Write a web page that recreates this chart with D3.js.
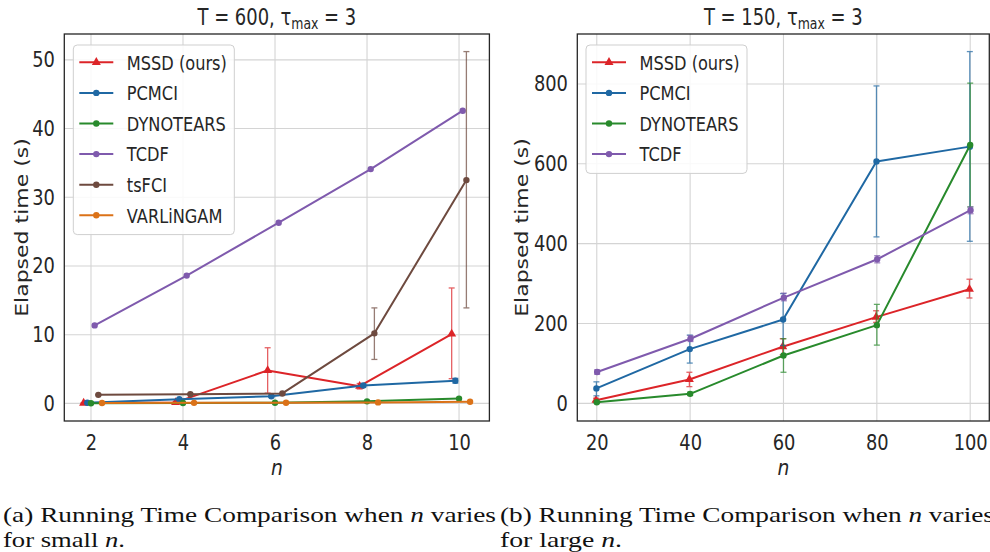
<!DOCTYPE html>
<html>
<head>
<meta charset="utf-8">
<script src="https://cdn.jsdelivr.net/npm/d3@7"></script>
<style>
  body { margin: 0; background: #fff; }
  svg { display: block; }
</style>
</head>
<body>
<svg id="fig" width="990" height="552"></svg>
<script>
// ---------- data: small n (T = 600) ----------
const nSmall = [2, 4, 6, 8, 10];
const mssdSmall   = [0.05, 0.15, 4.8, 2.5, 10.1];
const mssdSmallLo = [0.0, 0.0, 1.5, 2.1, 3.6];
const mssdSmallHi = [0.1, 0.3, 8.1, 2.9, 16.8];
const pcmciSmall   = [0.1, 0.6, 1.05, 2.6, 3.3];
const pcmciSmallLo = [0.05, 0.5, 0.9, 2.4, 2.95];
const pcmciSmallHi = [0.15, 0.7, 1.2, 2.8, 3.65];
const dynoSmall   = [0.02, 0.05, 0.1, 0.3, 0.7];
const tcdfSmall   = [11.35, 18.6, 26.3, 34.1, 42.6];
const tsfciSmall   = [1.25, 1.35, 1.45, 10.2, 32.5];
const tsfciSmallLo = [1.2, 1.3, 1.4, 6.4, 13.9];
const tsfciSmallHi = [1.3, 1.4, 1.5, 13.9, 51.2];
const varlingamSmall = [0.05, 0.08, 0.1, 0.15, 0.25];
const ticksSmallX = [2, 4, 6, 8, 10];
const ticksSmallY = [0, 10, 20, 30, 40, 50];

// ---------- data: large n (T = 150) ----------
const nLarge = [20, 40, 60, 80, 100];
const mssdLarge   = [8, 60, 142, 216, 286];
const mssdLargeLo = [3, 42, 122, 203, 264];
const mssdLargeHi = [13, 78, 162, 232, 311];
const pcmciLarge   = [37.6, 136, 210, 606, 643];
const pcmciLargeLo = [19, 101, 145, 417, 406];
const pcmciLargeHi = [54, 171, 275, 795, 881];
const dynoLarge   = [3, 24, 120, 196, 647];
const dynoLargeLo = [0, 20, 78, 146, 492];
const dynoLargeHi = [6, 28, 162, 248, 802];
const tcdfLarge   = [78.5, 162, 265, 361, 484];
const tcdfLargeLo = [73, 155, 257, 352, 475];
const tcdfLargeHi = [84, 170, 276, 370, 492];
const ticksLargeX = [20, 40, 60, 80, 100];
const ticksLargeY = [0, 200, 400, 600, 800];

const methodNames = ["MSSD (ours)", "PCMCI", "DYNOTEARS", "TCDF", "tsFCI", "VARLiNGAM"];

// ---------- styling ----------
const colors = {
  "MSSD (ours)": "#dc2428",
  "PCMCI": "#1f68a3",
  "DYNOTEARS": "#288a2c",
  "TCDF": "#7f5aad",
  "tsFCI": "#6e4a3f",
  "VARLiNGAM": "#db7218"
};
const markers = { "MSSD (ours)": "triangle" };
const dodge = [-0.16, -0.08, 0, 0.08, 0.16, 0.24];
const FONT = "'DejaVu Sans', sans-serif";
const INK = "#262626";

function series(name, i, xs, ys, lo, hi) {
  return {
    name, color: colors[name], marker: markers[name] || "circle", offset: dodge[i],
    pts: xs.map((x, k) => ({ x, y: ys[k], lo: lo ? lo[k] : null, hi: hi ? hi[k] : null }))
  };
}

const smallSeries = [
  series(methodNames[0], 0, nSmall, mssdSmall, mssdSmallLo, mssdSmallHi),
  series(methodNames[1], 1, nSmall, pcmciSmall, pcmciSmallLo, pcmciSmallHi),
  series(methodNames[2], 2, nSmall, dynoSmall),
  series(methodNames[3], 3, nSmall, tcdfSmall),
  series(methodNames[4], 4, nSmall, tsfciSmall, tsfciSmallLo, tsfciSmallHi),
  series(methodNames[5], 5, nSmall, varlingamSmall)
];
const largeSeries = [
  series(methodNames[0], 0, nLarge, mssdLarge, mssdLargeLo, mssdLargeHi),
  series(methodNames[1], 1, nLarge, pcmciLarge, pcmciLargeLo, pcmciLargeHi),
  series(methodNames[2], 2, nLarge, dynoLarge, dynoLargeLo, dynoLargeHi),
  series(methodNames[3], 3, nLarge, tcdfLarge, tcdfLargeLo, tcdfLargeHi)
];

const svg = d3.select("#fig");

// padded extent like matplotlib autoscale (5% margins)
function padded(lo, hi) { const m = (hi - lo) * 0.05; return [lo - m, hi + m]; }

function markerPath(type, size) {
  return type === "triangle"
    ? d3.symbol(d3.symbolTriangle, size * 1.1)()
    : d3.symbol(d3.symbolCircle, size)();
}

function panel(cfg) {
  const { left, right, top, bottom, data, xTicks, yTicks, title, legend, yLabelX } = cfg;
  const allX = data.flatMap(s => s.pts.map(p => p.x + s.offset));
  const allY = data.flatMap(s => s.pts.flatMap(p => [p.y, p.lo ?? p.y, p.hi ?? p.y]));
  const x = d3.scaleLinear().domain(padded(d3.min(allX), d3.max(allX))).range([left, right]);
  const y = d3.scaleLinear().domain(padded(Math.min(0, d3.min(allY)), d3.max(allY))).range([bottom, top]);

  const g = svg.append("g");

  // grid
  g.append("g").selectAll("line").data(xTicks).join("line")
    .attr("x1", d => x(d)).attr("x2", d => x(d)).attr("y1", top).attr("y2", bottom)
    .attr("stroke", "#d4d4d4").attr("stroke-width", 1.1);
  g.append("g").selectAll("line").data(yTicks).join("line")
    .attr("x1", left).attr("x2", right).attr("y1", d => y(d)).attr("y2", d => y(d))
    .attr("stroke", "#d4d4d4").attr("stroke-width", 1.1);

  // axes tick labels
  const sx = 0.85;
  const ax = g.append("g").attr("transform", `translate(0,${bottom})`)
    .call(d3.axisBottom(x).tickValues(xTicks).tickSize(0).tickPadding(14).tickFormat(d3.format("d")));
  const ay = g.append("g").attr("transform", `translate(${left},0)`)
    .call(d3.axisLeft(y).tickValues(yTicks).tickSize(0).tickPadding(11).tickFormat(d3.format("d")));
  [ax, ay].forEach(a => {
    a.select(".domain").remove();
    a.selectAll("text").attr("font-family", FONT).attr("font-size", 21).attr("fill", INK)
      .attr("transform", `scale(${sx},1)`);
  });

  // series
  const lineGen = d3.line().x(d => d.px).y(d => y(d.y));
  data.forEach(s => {
    const pts = s.pts.map(p => ({ ...p, px: x(p.x + s.offset) }));
    const sg = g.append("g");
    const errs = pts.filter(p => p.lo != null);
    const cap = 3;
    const eg = sg.append("g").attr("stroke", s.color).attr("stroke-width", 1.3).attr("opacity", 0.72);
    eg.selectAll("line.v").data(errs).join("line").attr("class", "v")
      .attr("x1", d => d.px).attr("x2", d => d.px).attr("y1", d => y(d.lo)).attr("y2", d => y(d.hi));
    eg.selectAll("line.lo").data(errs).join("line").attr("class", "lo")
      .attr("x1", d => d.px - cap).attr("x2", d => d.px + cap).attr("y1", d => y(d.lo)).attr("y2", d => y(d.lo));
    eg.selectAll("line.hi").data(errs).join("line").attr("class", "hi")
      .attr("x1", d => d.px - cap).attr("x2", d => d.px + cap).attr("y1", d => y(d.hi)).attr("y2", d => y(d.hi));
    sg.append("path").attr("d", lineGen(pts)).attr("fill", "none")
      .attr("stroke", s.color).attr("stroke-width", 2).attr("stroke-linejoin", "round");
    sg.selectAll("path.m").data(pts).join("path").attr("class", "m")
      .attr("d", markerPath(s.marker, 32))
      .attr("transform", d => `translate(${d.px},${y(d.y)})`)
      .attr("fill", s.color);
  });

  // frame
  g.append("rect").attr("x", left).attr("y", top).attr("width", right - left).attr("height", bottom - top)
    .attr("fill", "none").attr("stroke", INK).attr("stroke-width", 1.3);

  // title
  const cx = (left + right) / 2;
  const t = g.append("text").attr("transform", `translate(${cx},25) scale(0.78,1)`)
    .attr("text-anchor", "middle").attr("font-family", FONT).attr("font-size", 23).attr("fill", INK);
  t.append("tspan").text(title[0]);
  t.append("tspan").attr("font-size", 16).attr("dy", 4).text("max");
  t.append("tspan").attr("dy", -4).text(title[1]);

  // x label
  g.append("text").attr("transform", `translate(${cx},475) scale(0.85,1)`)
    .attr("text-anchor", "middle").attr("font-family", FONT).attr("font-style", "italic")
    .attr("font-size", 22).attr("fill", INK).text("n");

  // y label
  g.append("text").attr("transform", `translate(${yLabelX},${(top + bottom) / 2}) scale(0.82,1) rotate(-90)`)
    .attr("text-anchor", "middle").attr("font-family", FONT).attr("font-size", 22).attr("fill", INK)
    .text("Elapsed time (s)");

  // legend
  const lg = g.append("g");
  const rowH = 30.6;
  lg.append("rect").attr("x", legend.x).attr("y", legend.y).attr("width", 161)
    .attr("height", data.length * rowH + 6).attr("rx", 4)
    .attr("fill", "#fff").attr("fill-opacity", 0.85).attr("stroke", "#cfcfcf").attr("stroke-width", 1);
  data.forEach((s, i) => {
    const ry = legend.y + 17.3 + i * rowH;
    const lx0 = legend.x + 6, lx1 = legend.x + 40;
    lg.append("line").attr("x1", lx0).attr("x2", lx1).attr("y1", ry).attr("y2", ry)
      .attr("stroke", s.color).attr("stroke-width", 2);
    lg.append("path").attr("d", markerPath(s.marker, 32))
      .attr("transform", `translate(${(lx0 + lx1) / 2},${ry})`).attr("fill", s.color);
    lg.append("text").attr("transform", `translate(${legend.x + 53.5},${ry}) scale(0.81,1)`)
      .attr("dy", "0.36em").attr("font-family", FONT).attr("font-size", 20).attr("fill", INK)
      .text(s.name);
  });
}

panel({
  left: 64.3, right: 489.4, top: 34, bottom: 421,
  data: smallSeries, xTicks: ticksSmallX, yTicks: ticksSmallY,
  title: ["T = 600, τ", " = 3"], legend: { x: 73.3, y: 45 }, yLabelX: 28
});
panel({
  left: 577.3, right: 989.3, top: 34, bottom: 421,
  data: largeSeries, xTicks: ticksLargeX, yTicks: ticksLargeY,
  title: ["T = 150, τ", " = 3"], legend: { x: 586, y: 45 }, yLabelX: 528
});

// ---------- sub-figure captions ----------
const CAP = "'Liberation Serif', 'Times New Roman', serif";
function caption(x, y, parts, len) {
  const t = svg.append("text").attr("x", x).attr("y", y).attr("font-family", CAP)
    .attr("font-size", 21).attr("fill", "#111")
    .attr("textLength", len).attr("lengthAdjust", "spacingAndGlyphs");
  parts.forEach(p => t.append("tspan").attr("font-style", p[1] ? "italic" : "normal").text(p[0]));
}
caption(3, 522, [["(a) Running Time Comparison when "], ["n", true], [" varies"]], 493);
caption(3, 547, [["for small "], ["n", true], ["."]], 122);
caption(500, 522, [["(b) Running Time Comparison when "], ["n", true], [" varies"]], 494);
caption(500, 547, [["for large "], ["n", true], ["."]], 122);
</script>
</body>
</html>
